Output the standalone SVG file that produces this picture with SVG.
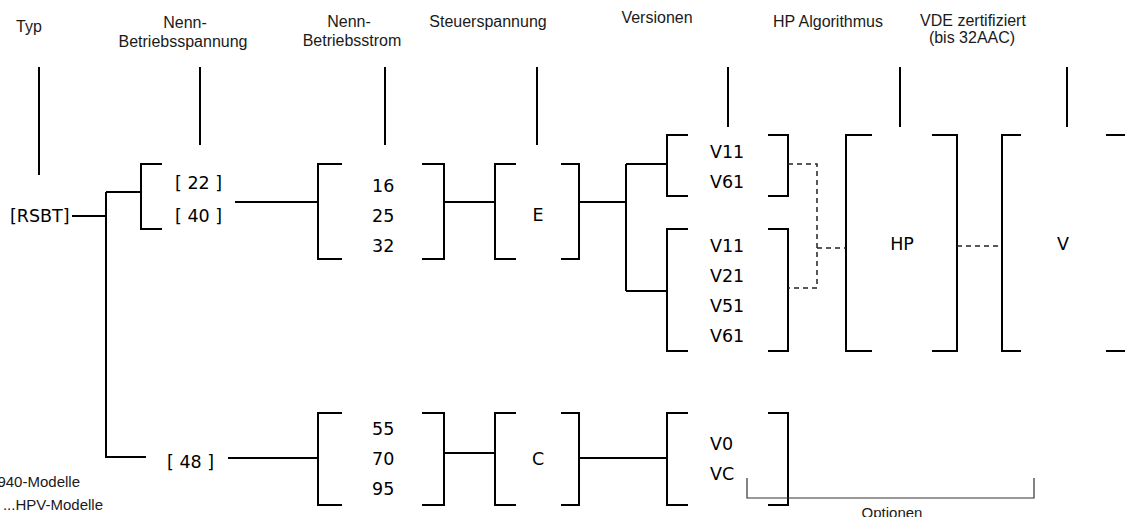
<svg xmlns="http://www.w3.org/2000/svg" width="1125" height="517" viewBox="0 0 1125 517">
<style>
.h{font-family:"Liberation Sans",Arial,sans-serif;font-size:16px;fill:#1a1a1a;text-anchor:middle}
.t{font-family:"DejaVu Sans",sans-serif;font-size:17.5px;fill:#000}
.m{text-anchor:middle}
.n{font-family:"Liberation Sans",Arial,sans-serif;font-size:15px;fill:#1a1a1a}
.k{fill:none;stroke:#000;stroke-width:2}
.d{fill:none;stroke:#222;stroke-width:1.5;stroke-dasharray:5 4}
.o{fill:none;stroke:#333;stroke-width:1.2}
</style>
<rect width="1125" height="517" fill="#fff"/>
<g id="headers">
<text class="h" x="29" y="32">Typ</text>
<text class="h" x="185" y="28">Nenn-</text>
<text class="h" x="183" y="47">Betriebsspannung</text>
<text class="h" x="349" y="27">Nenn-</text>
<text class="h" x="352" y="46">Betriebsstrom</text>
<text class="h" x="488" y="27">Steuerspannung</text>
<text class="h" x="657" y="23">Versionen</text>
<text class="h" x="828" y="27">HP Algorithmus</text>
<text class="h" x="973" y="26">VDE zertifiziert</text>
<text class="h" x="972" y="43">(bis 32AAC)</text>
<path class="k" d="M39,67V175M200,67V145M385,67V145M537,67V145M728,67V127M900,67V127M1067,67V127"/>
</g>
<g id="typ"><text class="t" x="10" y="222">[RSBT]</text></g>
<g id="spannung-top">
<path class="k" d="M162,164H141V229H162"/>
<text class="t" x="175" y="189">[ 22 ]</text>
<text class="t" x="175" y="222">[ 40 ]</text>
</g>
<g id="spannung-bottom"><text class="t" x="167" y="468">[ 48 ]</text></g>
<g id="strom-top">
<path class="k" d="M342,164H318V259H342M422,164H444V259H422"/>
<text class="t" x="372" y="192">16</text>
<text class="t" x="372" y="222">25</text>
<text class="t" x="372" y="252">32</text>
</g>
<g id="strom-bottom">
<path class="k" d="M342,413H318V505H342M422,413H444V505H422"/>
<text class="t" x="372" y="435">55</text>
<text class="t" x="372" y="465">70</text>
<text class="t" x="372" y="495">95</text>
</g>
<g id="steuer-top">
<path class="k" d="M516,164H495V259H516M561,164H579V259H561"/>
<text class="t m" x="538" y="221">E</text>
</g>
<g id="steuer-bottom">
<path class="k" d="M516,413H495V505H516M561,413H579V505H561"/>
<text class="t m" x="538" y="465">C</text>
</g>
<g id="versionen-1">
<path class="k" d="M688,135H667V196H688M768,135H788V196H768"/>
<text class="t" x="710" y="158">V11</text>
<text class="t" x="710" y="188">V61</text>
</g>
<g id="versionen-2">
<path class="k" d="M688,229H667V351H688M768,229H788V351H768"/>
<text class="t" x="710" y="252">V11</text>
<text class="t" x="710" y="282">V21</text>
<text class="t" x="710" y="312">V51</text>
<text class="t" x="710" y="342">V61</text>
</g>
<g id="versionen-3">
<path class="k" d="M688,413H667V505H688M768,413H788V505H768"/>
<text class="t" x="710" y="450">V0</text>
<text class="t" x="710" y="480">VC</text>
</g>
<g id="hp">
<path class="k" d="M872,135H846V351H872M932,135H957V351H932"/>
<text class="t m" x="902" y="250">HP</text>
</g>
<g id="vde">
<path class="k" d="M1021,135H1002V351H1021M1106,135H1127M1106,351H1127"/>
<text class="t m" x="1063" y="250">V</text>
</g>
<g id="notes">
<text class="n" x="80" y="487" text-anchor="end">940-Modelle</text>
<text class="n" x="103" y="510" text-anchor="end">...HPV-Modelle</text>
</g>
<g id="optionen">
<path class="o" d="M747,478V498H1034V478"/>
<text class="n" x="892" y="518" text-anchor="middle">Optionen</text>
</g>
<g id="connectors">
<path class="k" d="M72,216H106M106,192V457H146M106,192H141M235,202H318M444,202H495M579,202H626M626,164V291M626,164H667M626,291H667M228,458H318M444,453H495M579,458H667"/>
<path class="d" d="M788,164H817V288H788M817,248H846M957,246H1002"/>
</g>
</svg>
